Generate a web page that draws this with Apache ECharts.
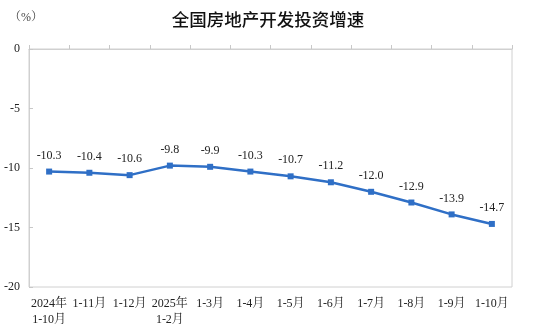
<!DOCTYPE html>
<html><head><meta charset="utf-8">
<script src="https://cdn.jsdelivr.net/npm/echarts@6/dist/echarts.min.js"></script>
<style>html,body{margin:0;padding:0;background:#fff}#c{width:536px;height:333px}</style>
</head><body><div id="c"></div>
<script>
const categories = ['2024年\n1-10月','1-11月','1-12月','2025年\n1-2月','1-3月','1-4月','1-5月','1-6月','1-7月','1-8月','1-9月','1-10月'];
const values = [-10.3,-10.4,-10.6,-9.8,-9.9,-10.3,-10.7,-11.2,-12.0,-12.9,-13.9,-14.7];
const yTicks = [0,-5,-10,-15,-20];
const serif = '"Liberation Serif","Noto Serif CJK SC","Noto Sans CJK SC",serif';
const chart = echarts.init(document.getElementById('c'));
chart.setOption({
  animation:false,
  title:{text:'全国房地产开发投资增速',left:'center',top:6,textStyle:{fontSize:17.5,fontWeight:500,color:'#111',fontFamily:'"Noto Sans CJK SC",sans-serif'}},
  grid:{left:29,right:24,top:49,bottom:46,show:true,borderColor:'#d0d0d0',borderWidth:1},
  xAxis:{type:'category',data:categories,boundaryGap:true,
    axisLine:{show:true,lineStyle:{color:'#d0d0d0'}},
    axisTick:{show:true,inside:true,length:4,lineStyle:{color:'#c8c8c8'}},
    axisLabel:{color:'#222',fontSize:12,fontFamily:serif,margin:9,lineHeight:16,interval:0}},
  yAxis:{type:'value',min:-20,max:0,interval:5,name:'（%）',nameLocation:'end',nameGap:25,
    nameTextStyle:{color:'#444',fontSize:12,fontFamily:serif,align:'center',padding:[0,6,0,0]},
    splitLine:{show:false},
    axisLine:{show:true,lineStyle:{color:'#d0d0d0'}},
    axisTick:{show:true,inside:true,length:4,lineStyle:{color:'#c8c8c8'}},
    axisLabel:{color:'#222',fontSize:12,fontFamily:serif,margin:9,formatter:v=>yTicks.includes(v)?String(v):''}},
  series:[{type:'line',data:values,symbol:'rect',symbolSize:6,
    itemStyle:{color:'#2f6fc6'},lineStyle:{color:'#2f6fc6',width:2.5},
    label:{show:true,position:'top',distance:7,color:'#222',fontSize:12,fontFamily:serif,formatter:p=>p.value.toFixed(1)}}]
});
</script></body></html>
